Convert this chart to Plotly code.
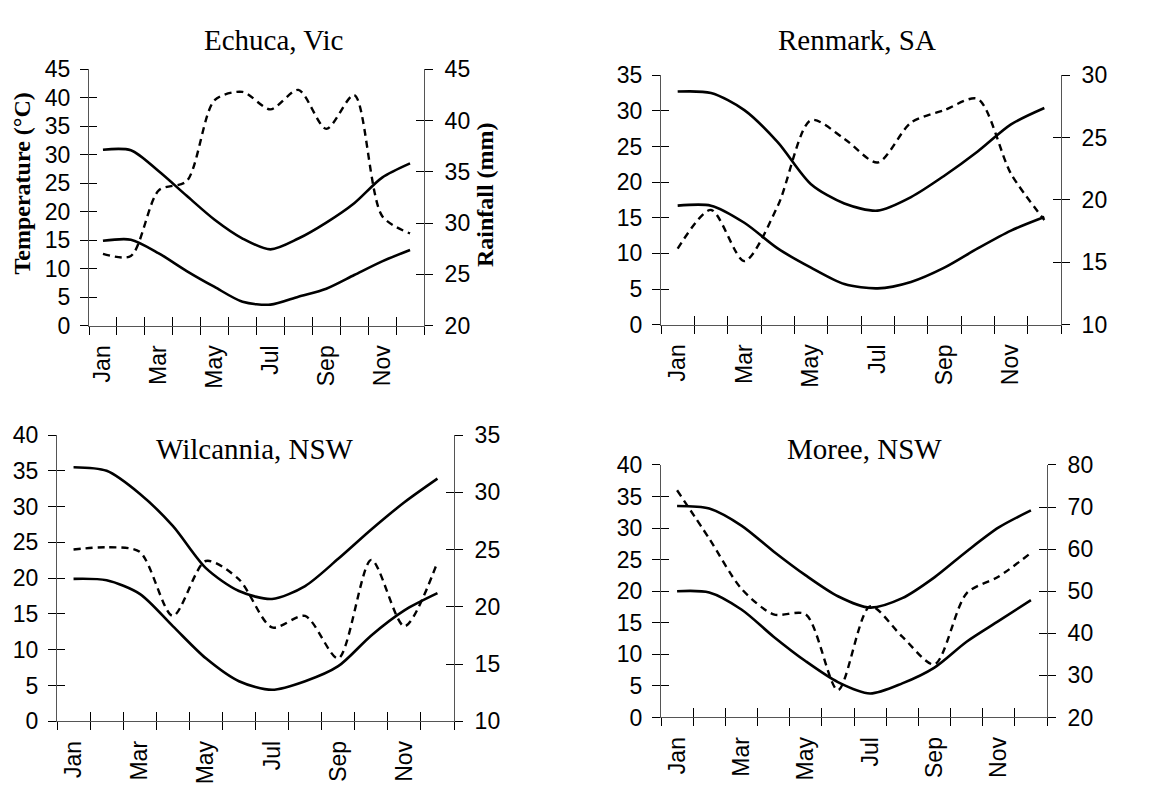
import plotly.graph_objects as go

months = ["Jan", "Feb", "Mar", "Apr", "May", "Jun", "Jul", "Aug", "Sep", "Oct", "Nov", "Dec"]
label_months = months[::2]

stations = ["Echuca, Vic", "Renmark, SA", "Wilcannia, NSW", "Moree, NSW"]

echuca_max = [30.9, 30.8, 27.1, 22.8, 18.6, 15.3, 13.4, 15.3, 18.1, 21.5, 26.0, 28.5]
echuca_min = [14.9, 15.1, 12.7, 9.6, 6.8, 4.2, 3.7, 5.1, 6.5, 8.9, 11.3, 13.3]
echuca_rain = [27.0, 26.8, 33.2, 34.1, 42.0, 42.8, 41.1, 43.0, 39.2, 42.5, 30.7, 29.0]

renmark_max = [32.7, 32.5, 30.1, 25.6, 19.7, 17.0, 16.0, 17.9, 20.9, 24.3, 28.1, 30.4]
renmark_min = [16.7, 16.7, 14.3, 10.7, 8.0, 5.7, 5.1, 6.0, 8.0, 10.7, 13.2, 15.1]
renmark_rain = [16.1, 19.2, 15.1, 19.5, 26.4, 24.9, 23.0, 26.2, 27.2, 28.1, 22.1, 18.4]

wilcannia_max = [35.5, 35.0, 31.8, 27.3, 21.4, 18.2, 17.1, 18.9, 22.7, 26.8, 30.6, 33.9]
wilcannia_min = [19.9, 19.7, 17.8, 13.3, 8.8, 5.6, 4.4, 5.6, 7.7, 12.0, 15.5, 17.9]
wilcannia_rain = [25.0, 25.2, 24.8, 19.2, 24.0, 22.4, 18.2, 19.2, 15.5, 24.1, 18.3, 23.9]

moree_max = [33.5, 33.1, 30.4, 26.3, 22.5, 19.2, 17.4, 18.9, 22.2, 26.3, 30.1, 32.8]
moree_min = [20.0, 19.8, 17.1, 12.8, 8.9, 5.6, 3.8, 5.4, 7.9, 12.0, 15.3, 18.6]
moree_rain = [74.0, 62.5, 50.6, 44.5, 44.5, 26.5, 46.4, 39.2, 32.6, 49.5, 53.5, 59.1]

temp_max = [echuca_max, renmark_max, wilcannia_max, moree_max]
temp_min = [echuca_min, renmark_min, wilcannia_min, moree_min]
rain = [echuca_rain, renmark_rain, wilcannia_rain, moree_rain]

temp_ranges = [[0, 45], [0, 35], [0, 40], [0, 40]]
rain_ranges = [[20, 45], [10, 30], [10, 35], [20, 80]]
rain_dticks = [5, 5, 5, 10]

W, H = 1168, 795
OFF = 8  # default page body margin compensation


def px(x):
    return (x - OFF) / W


def py(y):
    return 1 - (y - OFF) / H


boxes = [(89, 424, 58, 323), (661, 1061, 64, 322), (57, 454, 436, 732), (661, 1047, 467, 728)]
title_pos = [(273, 28), (857, 28), (255, 450), (864, 450)]

x_idx = list(range(len(months)))
boundaries = [i - 0.5 for i in range(len(months) + 1)]

tick_font = dict(family="Liberation Sans, Arial, sans-serif", size=23, color="black")
title_font = dict(family="Liberation Serif, Times New Roman, serif", size=29, color="black")
axis_line = "#555555"
tick_style = dict(tickwidth=1.2, tickcolor="black")

fig = go.Figure()
layout = dict(width=W, height=H, margin=dict(l=0, r=0, t=0, b=0),
              paper_bgcolor="white", plot_bgcolor="white", showlegend=False,
              annotations=[])


def nm(prefix, n):
    return prefix if n == 1 else f"{prefix}{n}"


def key(prefix, n):
    return prefix + "axis" + ("" if n == 1 else str(n))


for i in range(4):
    x0, x1, y0, y1 = boxes[i]
    xd = [px(x0), px(x1)]
    yd = [py(y1), py(y0)]
    xa, xo, xl = i + 1, i + 5, i + 9
    yl, yr, ylo, yro = i + 1, i + 5, i + 9, i + 13
    xs, ys_l, ys_r = nm("x", xa), nm("y", yl), nm("y", yr)

    fig.add_trace(go.Scatter(x=x_idx, y=temp_max[i], mode="lines", xaxis=xs, yaxis=ys_l,
                             line=dict(color="black", width=2.6, shape="spline", smoothing=0.8)))
    fig.add_trace(go.Scatter(x=x_idx, y=temp_min[i], mode="lines", xaxis=xs, yaxis=ys_l,
                             line=dict(color="black", width=2.6, shape="spline", smoothing=0.8)))
    fig.add_trace(go.Scatter(x=x_idx, y=rain[i], mode="lines", xaxis=xs, yaxis=ys_r,
                             line=dict(color="black", width=2.4, dash="7px,5px",
                                       shape="spline", smoothing=0.8)))
    # empty traces so that the tick-only overlay axes get drawn
    for xx, yy in [(nm("x", xo), ys_l), (nm("x", xl), ys_l), (xs, nm("y", ylo)), (xs, nm("y", yro))]:
        fig.add_trace(go.Scatter(x=[None], y=[None], xaxis=xx, yaxis=yy, mode="lines",
                                 hoverinfo="skip", showlegend=False))

    xr = [-0.5, 11.5]
    layout[key("x", xa)] = dict(
        domain=xd, anchor=ys_l, range=xr, showgrid=False, zeroline=False,
        showline=True, linecolor=axis_line, linewidth=1,
        tickmode="array", tickvals=boundaries, ticks="outside", ticklen=8,
        showticklabels=False, **tick_style)
    layout[key("x", xo)] = dict(
        overlaying=xs, anchor=ys_l, range=xr, showgrid=False, zeroline=False, showline=False,
        tickmode="array", tickvals=boundaries, ticks="inside", ticklen=9,
        showticklabels=False, **tick_style)
    layout[key("x", xl)] = dict(
        overlaying=xs, anchor=ys_l, range=xr, showgrid=False, zeroline=False, showline=False,
        tickmode="array", tickvals=x_idx[::2], ticktext=label_months, ticks="",
        tickangle=-90, tickfont=tick_font, ticklabelstandoff=14)
    layout[key("y", yl)] = dict(
        domain=yd, anchor=xs, range=temp_ranges[i], dtick=5, showgrid=False, zeroline=False,
        showline=True, linecolor=axis_line, linewidth=1,
        ticks="outside", ticklen=8, tickfont=tick_font, ticklabelstandoff=5, **tick_style)
    layout[key("y", ylo)] = dict(
        overlaying=ys_l, anchor=xs, range=temp_ranges[i], dtick=5, showgrid=False,
        zeroline=False, showline=False, ticks="inside", ticklen=8,
        showticklabels=False, **tick_style)
    layout[key("y", yr)] = dict(
        overlaying=ys_l, anchor=xs, side="right", range=rain_ranges[i], dtick=rain_dticks[i],
        showgrid=False, zeroline=False, showline=True, linecolor=axis_line, linewidth=1,
        ticks="outside", ticklen=8, tickfont=tick_font, ticklabelstandoff=7, **tick_style)
    layout[key("y", yro)] = dict(
        overlaying=ys_l, anchor=xs, side="right", range=rain_ranges[i], dtick=rain_dticks[i],
        showgrid=False, zeroline=False, showline=False, ticks="inside", ticklen=8,
        showticklabels=False, **tick_style)

    tx, ty = title_pos[i]
    layout["annotations"].append(dict(
        text=stations[i], x=px(tx), y=py(ty), xref="paper", yref="paper",
        xanchor="center", yanchor="middle", showarrow=False, font=title_font))

axis_title_font = dict(family="Liberation Serif, Times New Roman, serif", size=24, color="black")
layout["annotations"].append(dict(
    text="<b>Temperature (°C)</b>", x=px(22), y=py(176), xref="paper", yref="paper",
    xanchor="center", yanchor="middle", textangle=-90, showarrow=False, font=axis_title_font))
layout["annotations"].append(dict(
    text="<b>Rainfall (mm)</b>", x=px(485), y=py(188), xref="paper", yref="paper",
    xanchor="center", yanchor="middle", textangle=-90, showarrow=False, font=axis_title_font))

fig.update_layout(**layout)
fig.write_html("out.html", config={"displayModeBar": False})
